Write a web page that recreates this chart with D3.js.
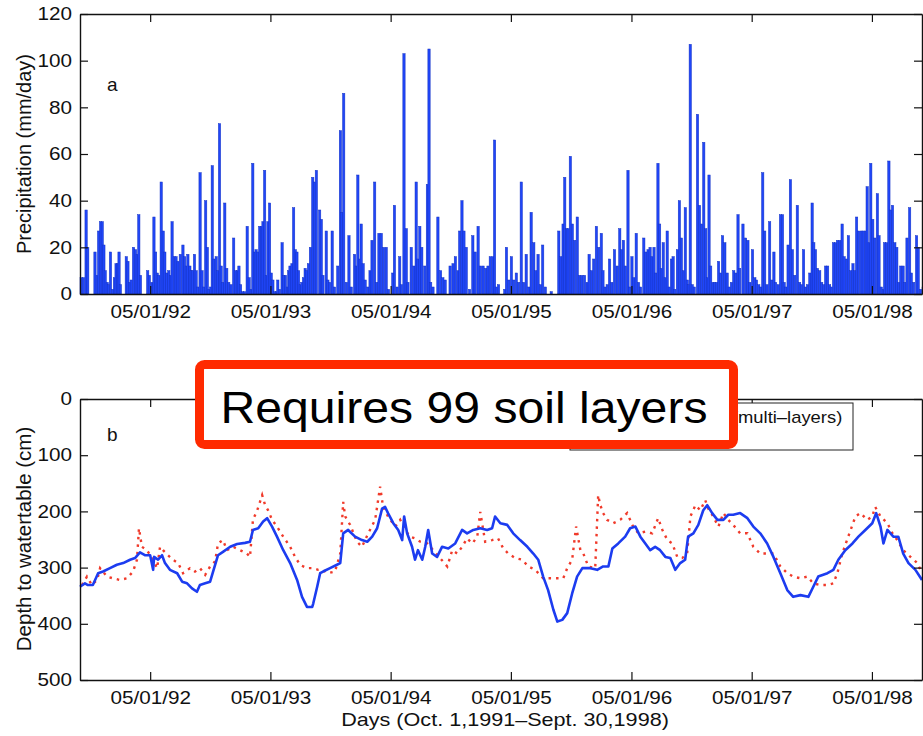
<!DOCTYPE html>
<html lang="en">
<head>
  <meta charset="UTF-8">
  <title>Precipitation and depth to watertable</title>
  <style>
    body { margin: 0; background: #fff; }
    text { font-family: "Liberation Sans", Arial, Helvetica, sans-serif; }
  </style>
</head>
<body>
  <svg width="923" height="736" id="chart"></svg>
  <script src="https://cdn.jsdelivr.net/npm/d3@7/dist/d3.min.js"></script>
  <script>
    // days counted from Oct. 1, 1991
    const startDate = new Date(1991, 9, 1);
    const endDate = new Date(1998, 8, 30);
    const tickLabels = ['05/01/92', '05/01/93', '05/01/94', '05/01/95', '05/01/96', '05/01/97', '05/01/98'];
    const rainTicks = [0, 20, 40, 60, 80, 100, 120];
    const depthTicks = [0, 100, 200, 300, 400, 500];

    // [day, mm/day]
    const precipitation = [
      [0,7],[7,7],[15,36],[20,20],[42,18],[49,8],[53,27],[59,31],[64,31],[69,21],[73,10],[79,5],[83,4],[89,18],
      [96,2],[101,7],[106,13],[111,13],[115,18],[119,4],[137,16],[142,14],[147,5],[152,6],[159,20],[165,19],
      [170,17],[175,34],[180,8],[202,10],[207,8],[215,5],[221,33],[226,18],[231,9],[236,8],[243,48],[249,27],
      [254,18],[260,9],[266,10],[271,8],[276,31],[283,16],[288,16],[294,14],[301,17],[309,21],[314,16],[319,12],
      [324,17],[330,12],[334,10],[339,10],[344,17],[349,10],[354,3],[361,52],[367,10],[372,3],[378,40],[383,20],
      [388,2],[393,3],[398,55],[403,15],[410,16],[415,10],[420,73],[425,12],[430,5],[436,39],[442,11],[448,5],
      [455,4],[463,24],[469,10],[474,10],[479,12],[484,4],[490,1],[496,1],[504,29],[510,7],[516,2],[521,56],
      [526,18],[531,19],[536,18],[542,29],[547,29],[552,31],[557,53],[562,8],[567,31],[572,39],[577,9],[582,6],
      [587,1],[593,1],[597,6],[602,2],[610,22],[615,8],[620,8],[626,3],[630,10],[634,12],[640,13],[645,37],
      [650,19],[655,18],[660,10],[665,4],[670,5],[675,7],[680,11],[685,10],[690,13],[696,20],[703,50],[708,48],
      [714,53],[724,36],[729,32],[734,8],[744,27],[749,6],[754,5],[762,27],[769,3],[779,12],[787,70],[791,35],
      [797,86],[805,5],[813,25],[820,3],[830,17],[835,12],[840,51],[845,15],[850,30],[856,13],[862,6],[870,3],
      [877,10],[883,23],[891,48],[897,5],[904,26],[911,26],[918,20],[926,20],[933,2],[946,9],[951,38],[959,3],
      [967,16],[972,4],[980,103],[987,28],[992,5],[1002,20],[1010,12],[1017,48],[1022,15],[1028,29],[1034,20],
      [1043,12],[1051,47],[1056,105],[1061,5],[1068,3],[1083,33],[1091,10],[1098,7],[1105,6],[1120,12],
      [1129,13],[1136,16],[1144,10],[1149,27],[1156,40],[1162,27],[1169,20],[1179,2],[1189,25],[1196,18],
      [1205,29],[1212,12],[1220,12],[1228,11],[1235,12],[1242,16],[1250,16],[1255,66],[1260,3],[1267,4],
      [1286,2],[1291,20],[1298,6],[1306,16],[1313,6],[1321,9],[1328,5],[1336,48],[1343,5],[1351,17],[1359,3],
      [1366,35],[1374,22],[1380,10],[1387,17],[1394,4],[1401,21],[1409,3],[1427,1],[1450,27],[1456,16],
      [1463,30],[1468,50],[1474,28],[1478,28],[1485,59],[1491,30],[1498,23],[1506,33],[1513,8],[1520,8],
      [1528,8],[1536,5],[1542,17],[1549,10],[1556,15],[1564,29],[1571,20],[1579,26],[1584,10],[1591,3],
      [1597,4],[1604,15],[1611,5],[1619,19],[1627,12],[1635,28],[1640,19],[1646,23],[1652,12],[1660,53],
      [1665,3],[1672,16],[1678,7],[1685,26],[1692,5],[1698,3],[1708,24],[1714,18],[1721,19],[1727,20],
      [1733,16],[1739,20],[1744,9],[1751,56],[1756,30],[1761,11],[1767,22],[1773,7],[1779,27],[1785,3],
      [1792,15],[1797,16],[1802,2],[1810,19],[1816,40],[1822,24],[1828,10],[1834,37],[1840,6],[1844,4],
      [1849,107],[1855,4],[1861,3],[1871,77],[1877,38],[1883,30],[1890,65],[1896,28],[1901,7],[1906,51],
      [1911,12],[1918,5],[1923,5],[1929,5],[1935,14],[1941,9],[1947,25],[1954,22],[1961,9],[1967,3],[1974,5],
      [1981,10],[1987,9],[1994,34],[1999,11],[2009,30],[2017,24],[2024,23],[2030,5],[2038,19],[2045,7],
      [2050,6],[2057,4],[2063,3],[2069,52],[2075,27],[2082,4],[2090,31],[2096,6],[2103,18],[2108,5],[2116,4],
      [2123,34],[2129,34],[2134,5],[2139,3],[2146,21],[2153,49],[2159,19],[2166,8],[2174,38],[2181,5],
      [2186,4],[2193,19],[2199,3],[2205,4],[2212,9],[2219,39],[2224,22],[2229,19],[2235,11],[2242,10],
      [2248,5],[2254,4],[2260,12],[2266,12],[2272,4],[2277,3],[2284,22],[2290,22],[2296,23],[2303,23],
      [2310,30],[2316,16],[2323,15],[2329,25],[2336,10],[2343,13],[2348,10],[2354,33],[2360,27],[2368,27],
      [2374,27],[2381,27],[2386,46],[2392,22],[2397,56],[2403,32],[2409,24],[2417,43],[2422,25],[2429,3],
      [2435,2],[2439,22],[2445,22],[2452,57],[2457,36],[2463,38],[2470,22],[2476,20],[2482,5],[2488,12],
      [2495,12],[2500,5],[2507,24],[2515,37],[2520,9],[2527,5],[2536,25],[2541,20],[2548,2],[2556,3]
    ];

    // [day, depth cm] simulated (multi-layers)
    const simulated = [
      [0,334],[15,328],[24,331],[39,331],[55,310],[70,307],[91,301],[112,295],[131,292],[152,286],[167,283],
      [182,273],[197,278],[213,278],[222,304],[225,281],[237,286],[249,278],[258,292],[273,304],[295,310],
      [310,325],[325,328],[340,337],[355,343],[364,331],[380,328],[395,325],[404,307],[419,278],[434,272],
      [456,263],[477,258],[501,256],[516,254],[525,233],[541,230],[556,218],[568,212],[583,227],[598,245],
      [617,269],[638,292],[659,322],[674,352],[689,370],[705,370],[708,364],[720,334],[729,310],[738,307],
      [759,301],[780,295],[790,292],[799,239],[814,233],[835,245],[856,251],[872,254],[887,245],[902,230],
      [917,195],[926,192],[935,203],[951,221],[966,233],[978,251],[984,209],[993,239],[1008,263],[1017,286],
      [1026,269],[1039,286],[1048,263],[1057,233],[1069,275],[1084,281],[1099,263],[1118,266],[1139,257],
      [1160,233],[1175,239],[1194,233],[1215,230],[1236,233],[1251,230],[1260,209],[1276,221],[1297,224],
      [1315,239],[1336,251],[1358,263],[1376,275],[1391,286],[1406,316],[1421,340],[1437,375],[1449,396],
      [1464,393],[1479,381],[1494,346],[1509,316],[1525,301],[1549,301],[1570,304],[1588,298],[1604,298],
      [1616,266],[1634,257],[1655,245],[1670,230],[1686,227],[1701,245],[1716,257],[1731,269],[1746,263],
      [1761,269],[1777,281],[1792,283],[1807,304],[1822,292],[1837,286],[1846,245],[1862,239],[1877,224],
      [1892,198],[1904,189],[1919,203],[1935,215],[1953,215],[1968,206],[1983,206],[2004,203],[2026,212],
      [2044,227],[2065,239],[2086,257],[2105,281],[2126,310],[2147,340],[2165,352],[2187,349],[2211,352],
      [2226,334],[2241,316],[2269,310],[2287,304],[2302,286],[2323,269],[2345,257],[2363,245],[2384,233],
      [2405,221],[2417,203],[2430,227],[2439,257],[2451,233],[2469,245],[2484,245],[2499,275],[2515,292],
      [2536,304],[2556,322]
    ];

    // [day, depth cm] observed
    const observed = [
      [6,331],[21,316],[36,331],[52,322],[61,301],[82,316],[100,319],[121,322],[143,319],[161,307],[173,286],
      [179,230],[188,263],[203,269],[219,283],[234,301],[243,263],[252,269],[267,278],[282,286],[298,292],
      [313,310],[334,301],[349,307],[364,301],[380,313],[395,298],[410,289],[419,257],[434,251],[446,269],
      [465,263],[486,269],[507,275],[516,281],[525,215],[538,198],[553,171],[562,189],[571,198],[583,215],
      [598,227],[617,245],[638,263],[653,281],[668,295],[689,301],[708,301],[723,304],[735,304],[753,310],
      [774,307],[790,275],[799,183],[805,209],[820,224],[841,254],[856,263],[875,239],[896,215],[911,156],
      [920,192],[935,209],[957,227],[972,215],[987,233],[1002,245],[1017,248],[1033,254],[1054,257],
      [1072,269],[1093,283],[1115,298],[1130,269],[1145,275],[1160,263],[1175,248],[1191,257],[1206,245],
      [1215,201],[1230,254],[1251,251],[1269,248],[1285,266],[1300,275],[1321,283],[1342,286],[1361,298],
      [1382,304],[1406,319],[1437,319],[1467,319],[1479,301],[1494,286],[1506,227],[1519,269],[1528,275],
      [1543,298],[1564,301],[1573,171],[1579,188],[1588,203],[1600,215],[1619,221],[1640,215],[1661,203],
      [1679,227],[1695,239],[1716,236],[1737,239],[1755,212],[1768,233],[1783,251],[1798,257],[1813,281],
      [1828,283],[1843,275],[1853,209],[1868,189],[1883,198],[1898,180],[1907,195],[1922,209],[1938,227],
      [1953,203],[1968,215],[1983,224],[2004,239],[2026,239],[2044,263],[2065,275],[2086,275],[2105,275],
      [2126,298],[2147,310],[2165,316],[2187,319],[2208,316],[2226,328],[2247,331],[2269,331],[2287,328],
      [2299,310],[2314,275],[2332,245],[2354,209],[2369,203],[2390,215],[2405,209],[2414,192],[2430,209],
      [2451,221],[2466,239],[2481,251],[2499,269],[2521,281],[2542,292],[2556,310]
    ];

    let svg = d3.select('#chart');
    let dayDate = d => d3.timeDay.offset(startDate, d);
    let parse = d3.timeParse('%m/%d/%y');
    let tickDates = tickLabels.map(parse);

    let x = d3.scaleTime().domain([startDate, endDate]).range([80, 922]);
    let yRain = d3.scaleLinear().domain([0, 120]).range([294, 14]);
    let yDepth = d3.scaleLinear().domain([0, 500]).range([399, 680]);

    // panel a: precipitation bars
    svg.append('g').selectAll('rect').data(precipitation).join('rect')
        .attr('x', d => x(dayDate(d[0])))
        .attr('width', d => x(dayDate(d[0] + 7)) - x(dayDate(d[0])))
        .attr('y', d => yRain(d[1]))
        .attr('height', d => yRain(0) - yRain(d[1]))
        .attr('fill', '#2046f8')
        .attr('stroke', '#1533c4')
        .attr('stroke-width', 0.5);

    // panel b: depth lines
    let depthLine = d3.line().x(d => x(dayDate(d[0]))).y(d => yDepth(d[1]));
    svg.append('path').datum(observed)
        .attr('d', depthLine)
        .attr('fill', 'none')
        .attr('stroke', '#f03a2a')
        .attr('stroke-width', 2.4)
        .attr('stroke-dasharray', '2.5 5');
    svg.append('path').datum(simulated)
        .attr('d', depthLine)
        .attr('fill', 'none')
        .attr('stroke', '#1c3cf0')
        .attr('stroke-width', 2.6)
        .attr('stroke-linejoin', 'round');

    function frame(y, yTicks, top, bottom) {
      let g = svg.append('g');
      g.append('g').attr('transform', `translate(0,${bottom})`)
          .call(d3.axisBottom(x).tickValues(tickDates).tickFormat(d3.timeFormat('%m/%d/%y'))
              .tickSizeInner(-8).tickSizeOuter(0).tickPadding(11));
      g.append('g').attr('transform', `translate(0,${top})`)
          .call(d3.axisTop(x).tickValues(tickDates).tickFormat('').tickSizeInner(-8).tickSizeOuter(0));
      g.append('g').attr('transform', 'translate(80,0)')
          .call(d3.axisLeft(y).tickValues(yTicks).tickSizeInner(-8).tickSizeOuter(0).tickPadding(7));
      g.append('g').attr('transform', 'translate(922,0)')
          .call(d3.axisRight(y).tickValues(yTicks).tickFormat('').tickSizeInner(-8).tickSizeOuter(0));
      g.selectAll('.domain').attr('stroke', '#111').attr('stroke-width', 1.4);
      g.selectAll('.tick line').attr('stroke', '#111').attr('stroke-width', 1.2);
      g.selectAll('text')
          .attr('font-size', 18)
          .attr('font-family', '"Liberation Sans", Arial, sans-serif')
          .attr('fill', '#111')
          .attr('transform', 'scale(1.15,1)');
    }
    frame(yRain, rainTicks, 14, 294);
    frame(yDepth, depthTicks, 399, 680);

    svg.append('text').attr('transform', 'translate(31,154) rotate(-90)')
        .attr('text-anchor', 'middle').attr('font-size', 20).attr('fill', '#111')
        .text('Precipitation (mm/day)');
    svg.append('text').attr('transform', 'translate(31,539) rotate(-90)')
        .attr('text-anchor', 'middle').attr('font-size', 20.5).attr('fill', '#111')
        .text('Depth to watertable (cm)');
    svg.append('text').attr('transform', 'translate(505,726) scale(1.2,1)')
        .attr('text-anchor', 'middle').attr('font-size', 18).attr('fill', '#111')
        .text('Days (Oct. 1,1991\u2013Sept. 30,1998)');
    svg.append('text').attr('x', 107).attr('y', 91).attr('font-size', 19).attr('fill', '#111').text('a');
    svg.append('text').attr('x', 107).attr('y', 441).attr('font-size', 19).attr('fill', '#111').text('b');

    // legend (mostly hidden behind the annotation)
    let legend = svg.append('g');
    legend.append('rect').attr('x', 570).attr('y', 403).attr('width', 283).attr('height', 47)
        .attr('fill', '#fff').attr('stroke', '#222').attr('stroke-width', 1);
    legend.append('text').attr('x', 842).attr('y', 423).attr('text-anchor', 'end')
        .attr('font-size', 16).attr('fill', '#111').attr('transform', 'translate(-126,0) scale(1.15,1)')
        .text('Simulated (multi\u2013layers)');
    legend.append('line').attr('x1', 585).attr('x2', 625).attr('y1', 418).attr('y2', 418)
        .attr('stroke', '#1c3cf0').attr('stroke-width', 2.5);
    legend.append('line').attr('x1', 585).attr('x2', 625).attr('y1', 437).attr('y2', 437)
        .attr('stroke', '#f03a2a').attr('stroke-width', 2).attr('stroke-dasharray', '2 5');

    // annotation box
    svg.append('rect').attr('x', 199.5).attr('y', 364.5).attr('width', 534).attr('height', 80)
        .attr('rx', 5).attr('fill', '#fff').attr('stroke', '#ff2a00').attr('stroke-width', 9);
    svg.append('text').attr('transform', 'translate(464,423) scale(1.07,1)')
        .attr('text-anchor', 'middle').attr('font-size', 45).attr('fill', '#000')
        .text('Requires 99 soil layers');
  </script>
</body>
</html>
